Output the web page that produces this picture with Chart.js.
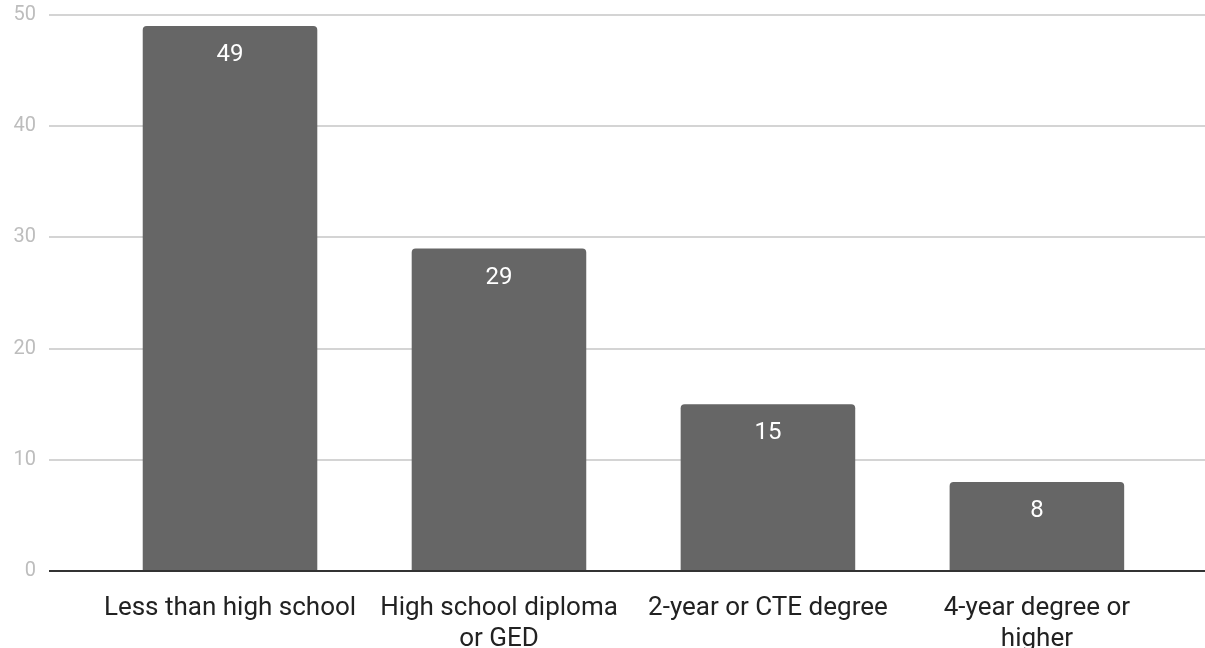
<!DOCTYPE html>
<html>
<head>
<meta charset="utf-8">
<script src="https://cdn.jsdelivr.net/npm/chart.js@4/dist/chart.umd.min.js"></script>
<style>
  html, body { margin: 0; padding: 0; background: #fff; }
  #wrap { width: 1205px; height: 648px; }
</style>
</head>
<body>
<div id="wrap"><canvas id="chart"></canvas></div>
<script>
const categories = ['Less than high school', 'High school diploma or GED', '2-year or CTE degree', '4-year degree or higher'];
const tickLabels = [['Less than high school'], ['High school diploma', 'or GED'], ['2-year or CTE degree'], ['4-year degree or', 'higher']];
const values = [49, 29, 15, 8];
const yTicks = [0, 10, 20, 30, 40, 50];

// white value printed near the top of each bar
const valueLabels = {
    id: 'valueLabels',
    afterDatasetsDraw(chart) {
        const ctx = chart.ctx;
        const meta = chart.getDatasetMeta(0);
        ctx.save();
        ctx.fillStyle = '#ffffff';
        ctx.font = '24px Roboto';
        ctx.textAlign = 'center';
        ctx.textBaseline = 'middle';
        meta.data.forEach((bar, i) => {
            ctx.fillText(String(values[i]), bar.x, bar.y + 29);
        });
        ctx.restore();
    }
};

chartIt();

function chartIt() {
    const ctx = document.getElementById('chart').getContext('2d');

    var options = {
        responsive: true,
        maintainAspectRatio: false,
        animation: false,
        layout: {
            padding: { top: 15, right: 0, bottom: 0, left: 0 }
        },
        scales: {
            x: {
                type: 'linear',
                min: -0.673,
                max: 3.625,
                offset: false,
                grid: { display: false, offset: false },
                border: { display: false },
                afterBuildTicks: (scale) => {
                    scale.ticks = categories.map((c, i) => ({ value: i }));
                },
                afterFit: (scale) => { scale.height = 77; },
                ticks: {
                    color: '#222222',
                    font: { family: 'Roboto', size: 26, lineHeight: 1.2 },
                    padding: 14,
                    maxRotation: 0,
                    autoSkip: false,
                    callback: (value) => tickLabels[value]
                }
            },
            y: {
                min: 0,
                max: 50,
                afterBuildTicks: (scale) => {
                    scale.ticks = yTicks.map(v => ({ value: v }));
                },
                afterFit: (scale) => {
                    scale.width = 49;
                    scale.paddingTop = 0;
                    scale.paddingBottom = 0;
                },
                border: { display: false },
                grid: {
                    drawTicks: false,
                    color: (c) => c.tick && c.tick.value === 0 ? '#333333' : '#d4d4d4',
                    lineWidth: 2
                },
                ticks: {
                    color: '#bdbdbd',
                    font: { family: 'Roboto', size: 20 },
                    padding: 13
                }
            }
        },
        plugins: {
            legend: { display: false },
            tooltip: { enabled: false }
        }
    };

    const myChart = new Chart(ctx, {
        type: 'bar',
        data: {
            datasets: [{
                label: 'Share',
                data: values.map((v, i) => ({ x: i, y: v })),
                backgroundColor: '#666666',
                borderWidth: 0,
                borderRadius: 4,
                categoryPercentage: 1,
                barPercentage: 0.649
            }]
        },
        options: options,
        plugins: [valueLabels]
    });
}
</script>
</body>
</html>
